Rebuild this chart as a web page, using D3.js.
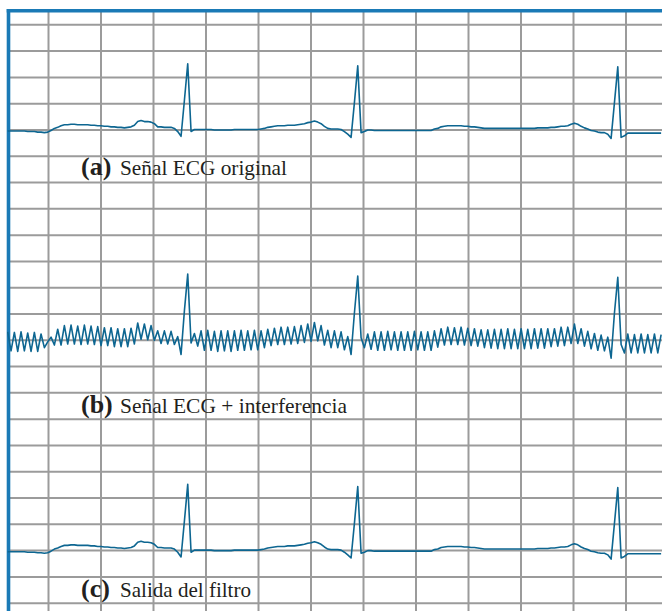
<!DOCTYPE html>
<html>
<head>
<meta charset="utf-8">
<script src="https://cdn.jsdelivr.net/npm/d3@7"></script>
<style>
  body { margin: 0; background: #fff; }
  svg { display: block; }
</style>
</head>
<body>
<div id="chart"></div>
<script>
// ECG samples (mV), one every samplePeriod seconds
const ecgOriginal = [
  -0.03, -0.03, -0.03, -0.03, -0.03, -0.03, -0.04, -0.04, -0.04, -0.05,
  -0.05, -0.06, -0.05, -0.02, 0.02, 0.04, 0.07, 0.09, 0.09, 0.10,
  0.10, 0.09, 0.09, 0.09, 0.09, 0.08, 0.08, 0.07, 0.07, 0.06,
  0.06, 0.05, 0.05, 0.04, 0.04, 0.03, 0.04, 0.05, 0.08, 0.15,
  0.17, 0.15, 0.15, 0.14, 0.11, 0.05, 0.05, 0.04, 0.04, 0.04,
  0.02, -0.04, -0.13, 0.55, 1.25, -0.04, 0.00, 0.00, 0.00, 0.00,
  0.00, 0.00, -0.01, -0.01, -0.01, -0.01, -0.01, -0.01, 0.00, 0.00,
  0.00, 0.00, 0.00, 0.00, 0.00, 0.00, 0.01, 0.02, 0.04, 0.05,
  0.06, 0.07, 0.07, 0.07, 0.08, 0.08, 0.08, 0.09, 0.10, 0.11,
  0.13, 0.14, 0.16, 0.14, 0.11, 0.06, 0.02, 0.01, 0.01, 0.01,
  0.00, -0.04, -0.09, -0.15, 0.51, 1.21, -0.06, -0.04, -0.01, -0.01,
  -0.02, -0.02, -0.02, -0.02, -0.02, -0.02, -0.02, -0.02, -0.02, -0.02,
  -0.02, -0.02, -0.02, -0.02, -0.02, -0.02, -0.02, -0.02, 0.01, 0.02,
  0.05, 0.06, 0.07, 0.07, 0.07, 0.07, 0.07, 0.06, 0.06, 0.05,
  0.05, 0.04, 0.03, 0.02, 0.02, 0.02, 0.02, 0.02, 0.02, 0.02,
  0.02, 0.02, 0.02, 0.02, 0.02, 0.02, 0.02, 0.02, 0.02, 0.03,
  0.03, 0.03, 0.03, 0.04, 0.04, 0.05, 0.06, 0.06, 0.07, 0.10,
  0.12, 0.10, 0.06, 0.03, 0.01, -0.02, -0.03, -0.05, -0.06, -0.06,
  -0.09, -0.17, 0.51, 1.19, -0.15, -0.12, -0.07, -0.07, -0.07, -0.07,
  -0.07, -0.07, -0.07, -0.07, -0.07, -0.07, -0.07
];

// power-line interference picked up on the same samples (mV)
const interferencia = [
  0.18, -0.18, 0.17, -0.19, 0.18, -0.18, 0.17, -0.18, 0.18, -0.17,
  0.16, -0.09, 0.01, 0.07, -0.12, 0.16, -0.17, 0.18, -0.17, 0.18,
  -0.18, 0.17, -0.18, 0.19, -0.17, 0.18, -0.17, 0.18, -0.18, 0.17,
  -0.17, 0.18, -0.18, 0.17, -0.17, 0.18, -0.17, 0.17, -0.16, 0.17,
  -0.16, 0.15, -0.15, 0.13, -0.12, 0.12, -0.12, 0.13, -0.12, 0.12,
  -0.11, 0.10, -0.15, 0.00, 0.00, -0.02, 0.12, -0.12, 0.17, -0.20,
  0.18, -0.20, 0.17, -0.21, 0.18, -0.20, 0.18, -0.21, 0.17, -0.20,
  0.18, -0.20, 0.17, -0.19, 0.18, -0.19, 0.16, -0.17, 0.16, -0.16,
  0.16, -0.16, 0.17, -0.16, 0.16, -0.16, 0.17, -0.16, 0.17, -0.16,
  0.17, -0.17, 0.17, -0.16, 0.16, -0.16, 0.16, -0.16, 0.16, -0.16,
  0.15, -0.15, 0.15, -0.13, 0.00, 0.00, 0.10, -0.11, 0.12, -0.17,
  0.17, -0.18, 0.17, -0.18, 0.18, -0.17, 0.17, -0.18, 0.17, -0.18,
  0.17, -0.18, 0.18, -0.17, 0.17, -0.18, 0.17, -0.18, 0.16, -0.16,
  0.16, -0.16, 0.17, -0.16, 0.16, -0.16, 0.17, -0.16, 0.16, -0.16,
  0.16, -0.16, 0.16, -0.17, 0.17, -0.18, 0.18, -0.19, 0.18, -0.19,
  0.19, -0.19, 0.18, -0.19, 0.19, -0.19, 0.18, -0.19, 0.19, -0.19,
  0.18, -0.19, 0.18, -0.17, 0.17, -0.17, 0.18, -0.17, 0.17, -0.17,
  0.18, -0.17, 0.15, -0.15, 0.15, -0.15, 0.15, -0.15, 0.15, -0.15,
  0.14, -0.18, 0.00, 0.00, 0.06, -0.13, 0.18, -0.18, 0.17, -0.18,
  0.18, -0.18, 0.17, -0.18, 0.18, -0.18, 0.17
];

// the notch filter gives back the clean trace
const salidaFiltro = ecgOriginal;

const sampleStart = 0.0465;   // s
const samplePeriod = 0.0127;  // s

// ECG paper: 0.2 s per column, 0.5 mV per row
const gridTimes = [0.2, 0.4, 0.6, 0.8, 1.0, 1.2, 1.4, 1.6, 1.8, 2.0, 2.2, 2.4];
const gridRows = d3.range(0, 23);
const mvPerRow = 0.5;

const panelLabels = ["(a)", "(b)", "(c)"];
const panelTitles = ["Señal ECG original", "Señal ECG + interferencia", "Salida del filtro"];
const panelRows = [4, 12, 20];

const width = 662;
const height = 611;
const frameLeft = 8.5;
const frameTop = 10.8;
const labelY = [175, 413, 597];
const titleWidth = [167, 227, 131];

const x = d3.scaleLinear().domain([0.2, 2.4]).range([48, 625.5]);
const yRow = d3.scaleLinear().domain([0, 22]).range([24.3, 602.7]);

const svg = d3.create("svg").attr("width", width).attr("height", height);
svg.append("rect").attr("width", width).attr("height", height).attr("fill", "#fff");

// vertical grid
const gx = svg.append("g")
  .attr("transform", `translate(0,${height})`)
  .call(d3.axisBottom(x).tickValues(gridTimes).tickSize(-(height - frameTop)).tickFormat(""));
gx.select(".domain").remove();

// horizontal grid
const gy = svg.append("g")
  .attr("transform", `translate(${frameLeft},0)`)
  .call(d3.axisLeft(yRow).tickValues(gridRows).tickSize(-(width - frameLeft)).tickFormat(""));
gy.select(".domain").remove();

svg.selectAll(".tick line").attr("stroke", "#9b9b9b").attr("stroke-width", 2);

// blue frame
svg.append("line")
  .attr("x1", frameLeft).attr("x2", frameLeft)
  .attr("y1", frameTop - 1.8).attr("y2", height)
  .attr("stroke", "#1a7ab6").attr("stroke-width", 3.6);
svg.append("line")
  .attr("x1", frameLeft - 1.8).attr("x2", width)
  .attr("y1", frameTop).attr("y2", frameTop)
  .attr("stroke", "#1a7ab6").attr("stroke-width", 3.6);

const series = [
  ecgOriginal,
  ecgOriginal.map((v, i) => v + interferencia[i]),
  salidaFiltro
];

series.forEach((values, p) => {
  const y = d3.scaleLinear()
    .domain([0, mvPerRow])
    .range([yRow(panelRows[p]), yRow(panelRows[p] - 1)]);

  const line = d3.line()
    .x((v, i) => x(sampleStart + i * samplePeriod))
    .y((v) => y(v));

  svg.append("path")
    .attr("fill", "none")
    .attr("stroke", "#0d6691")
    .attr("stroke-width", 1.6)
    .attr("stroke-linejoin", "round")
    .attr("d", line(values));

  svg.append("text")
    .attr("x", 81)
    .attr("y", labelY[p])
    .attr("font-family", "Liberation Serif, Times New Roman, serif")
    .attr("font-weight", "bold")
    .attr("font-size", 26)
    .attr("fill", "#231f20")
    .text(panelLabels[p]);

  svg.append("text")
    .attr("x", 120)
    .attr("y", labelY[p])
    .attr("font-family", "Liberation Serif, Times New Roman, serif")
    .attr("font-size", 22)
    .attr("fill", "#231f20")
    .attr("textLength", titleWidth[p])
    .attr("lengthAdjust", "spacingAndGlyphs")
    .text(panelTitles[p]);
});

document.getElementById("chart").append(svg.node());
</script>
</body>
</html>
